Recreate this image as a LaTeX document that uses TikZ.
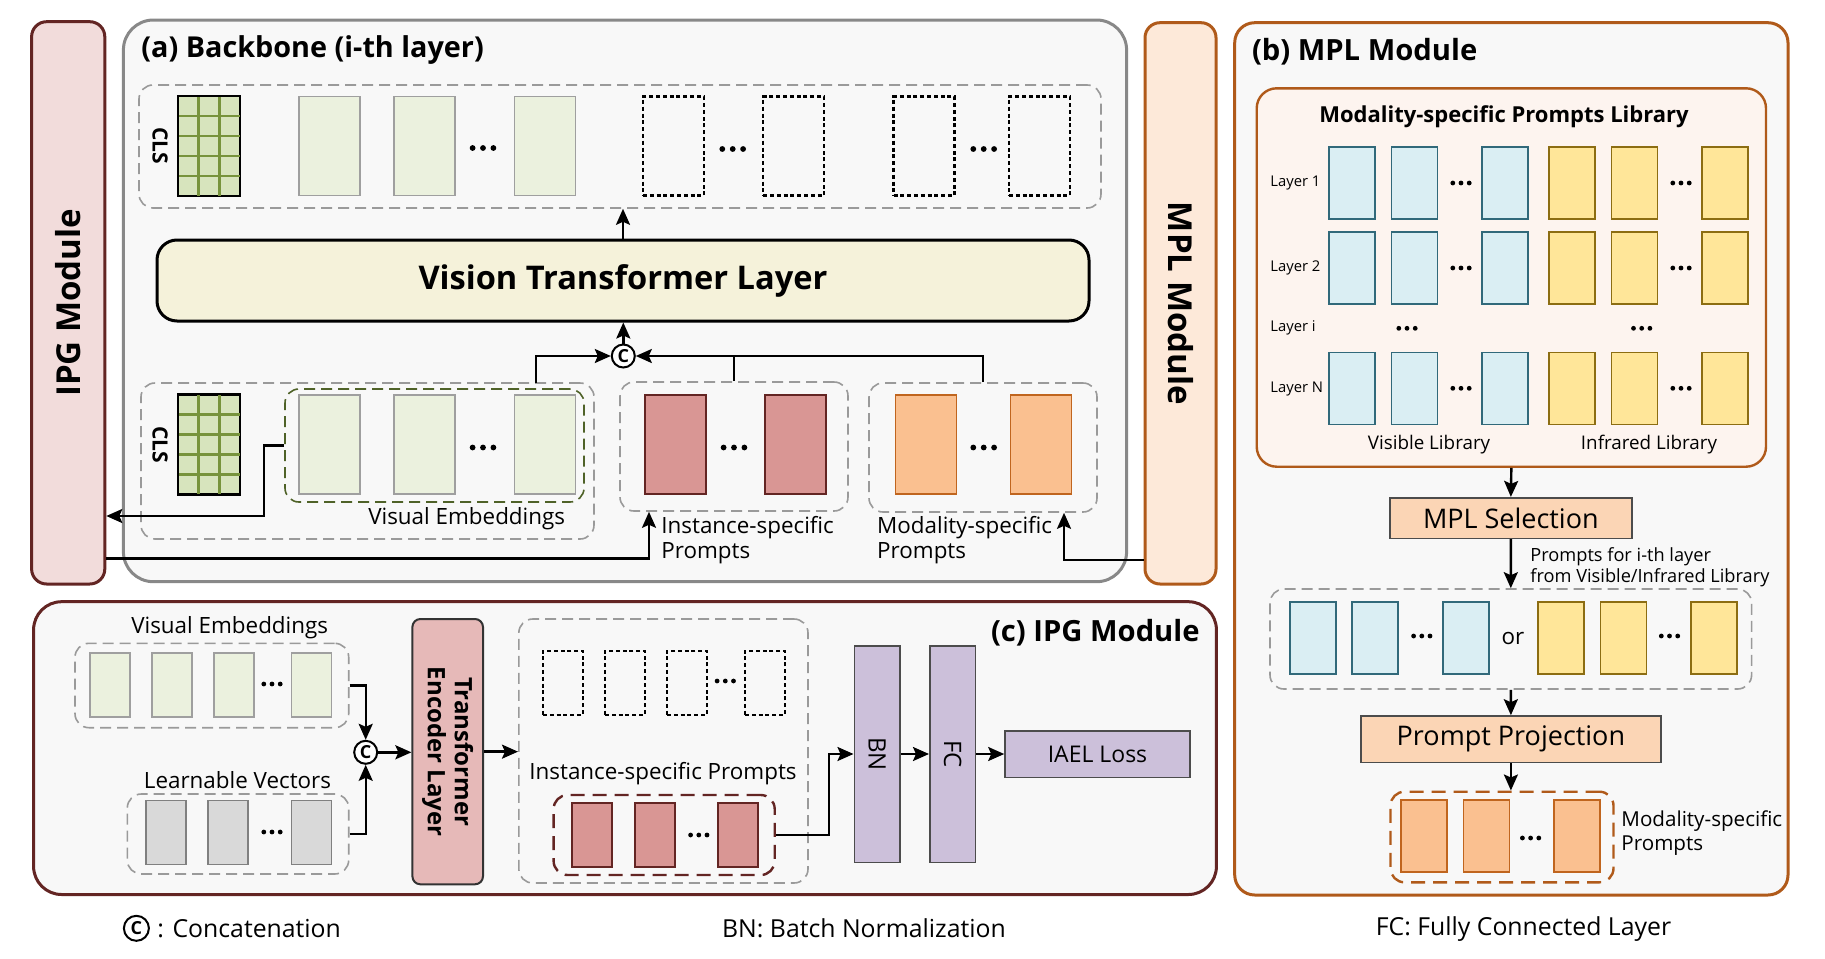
\documentclass[tikz,border=0pt]{standalone}
\usepackage{fontspec}
\setmainfont{Open Sans}
\usetikzlibrary{arrows.meta,calc,fit}

\definecolor{bbfill}{HTML}{F8F8F8}
\definecolor{bbframe}{HTML}{888888}
\definecolor{ipgfill}{HTML}{F2DCDB}
\definecolor{ipgframe}{HTML}{632523}
\definecolor{mplfill}{HTML}{FDE9D9}
\definecolor{mplframe}{HTML}{B05A1A}
\definecolor{vtlfill}{HTML}{F5F2DA}
\definecolor{visfill}{HTML}{EBF1DE}
\definecolor{clsfill}{HTML}{D7E4BD}
\definecolor{clsline}{HTML}{77933C}
\definecolor{insfill}{HTML}{D99694}
\definecolor{modfill}{HTML}{FAC090}
\definecolor{moddraw}{HTML}{C0651E}
\definecolor{blufill}{HTML}{DAEEF3}
\definecolor{bludraw}{HTML}{31697A}
\definecolor{yelfill}{HTML}{FFE699}
\definecolor{yeldraw}{HTML}{8C6D12}
\definecolor{libfill}{HTML}{FDF4EF}
\definecolor{selfill}{HTML}{FBD5B5}
\definecolor{grayfill}{HTML}{D9D9D9}
\definecolor{tefill}{HTML}{E6B9B8}
\definecolor{bnfill}{HTML}{CCC0DA}
\definecolor{dashgray}{HTML}{9A9A9A}
\definecolor{olive}{HTML}{4F6228}

\tikzset{
  arr/.style={-{Stealth[length=8pt,width=7pt,inset=1.5pt]}, line width=1.2pt},
  wire/.style={line width=1.2pt},
  txt/.style={inner sep=0pt, font=\fontsize{11.2}{12.5}\selectfont},
  panel/.style={inner sep=0pt, line width=1.5pt, fill=bbfill},
  group/.style={inner sep=0pt, draw=dashgray, line width=.8pt, dash pattern=on 5.5pt off 3pt, rounded corners=7pt},
  blk/.style={inner sep=0pt, line width=.8pt, draw=black!70},
  cat/.style={circle, draw, line width=1pt, fill=white, inner sep=0pt, minimum size=11.5pt, font=\fontsize{9}{9}\selectfont\bfseries},
  tile/.style={inner sep=0pt, line width=.8pt, minimum width=30.5pt, minimum height=49.5pt},
  ltile/.style={inner sep=0pt, line width=.8pt, minimum width=23pt, minimum height=36pt},
  stile/.style={inner sep=0pt, line width=.8pt, minimum width=20pt, minimum height=32pt},
  vis/.style={fill=visfill, draw=gray!75},
  cls/.style={fill=clsfill, draw=black},
  ins/.style={fill=insfill, draw=ipgframe},
  mod/.style={fill=modfill, draw=moddraw},
  blu/.style={fill=blufill, draw=bludraw},
  yel/.style={fill=yelfill, draw=yeldraw},
  gry/.style={fill=grayfill, draw=gray},
  hole/.style={draw=black, line width=1.1pt, dash pattern=on 2pt off 1.4pt},
  bigdots/.pic={\foreach \k in {-1,0,1} \fill (\k*5.2pt,0) circle (1.45pt);},
  smalldots/.pic={\foreach \k in {-1,0,1} \fill (\k*4.1pt,0) circle (1.2pt);}
}

\begin{document}
\begin{tikzpicture}[x=0.5pt, y=-0.5pt]
\useasboundingbox (0,0) rectangle (1825,958);
% Panels
\node[panel, draw=bbframe, rounded corners=15pt, fit={(123.4,20) (1126.6,581.7)}] (backbone) {};
\node[panel, draw=ipgframe, fill=ipgfill, rounded corners=7.5pt, fit={(31.6,21.7) (104.8,584)}] (ipgbar) {};
\node[panel, draw=mplframe, fill=mplfill, rounded corners=7.5pt, fit={(1145,22.7) (1216,584)}] (mplbar) {};
\node[panel, draw=mplframe, rounded corners=10pt, fit={(1234.7,22.7) (1788,895)}] (mplpanel) {};
\node[panel, draw=ipgframe, rounded corners=14pt, fit={(33.6,601.7) (1216.4,894.5)}] (ipgpanel) {};
\node[txt, rotate=90, font=\fontsize{16.5}{18}\selectfont\bfseries] (ipgname) at (ipgbar.center) {IPG Module};
\node[txt, rotate=-90, font=\fontsize{16.5}{18}\selectfont\bfseries] (mplname) at (mplbar.center) {MPL Module};

%% (a) Backbone
\node[txt, anchor=west, font=\fontsize{14.4}{16}\selectfont\bfseries] (bbtitle) at (141,50) {(a) Backbone (i-th layer)};
% Output tokens
\node[group, fit={(139,85) (1101,208)}] (outrow) {};
\node[tile, cls] (cls1) at (209,146) {};
\node[txt, rotate=-90, font=\fontsize{10.5}{11}\selectfont\bfseries] (clsa) at (160,146) {CLS};
\foreach \x [count=\i] in {329.5,424.5,545} \node[tile, vis] (ov\i) at (\x,146) {};
\foreach \x [count=\i] in {673.5,793.7,924,1039.5} \node[tile, hole] (oh\i) at (\x,146) {};
\path (483,148) pic {bigdots} (732.7,149) pic {bigdots} (983.7,149) pic {bigdots};
% Vision Transformer Layer
\node[inner sep=0pt, draw, line width=1.5pt, fill=vtlfill, rounded corners=10pt, fit={(157,240) (1089,321)}] (vtl) {};
\node[txt, font=\fontsize{16.3}{18}\selectfont\bfseries] (vtltext) at (vtl.center) {Vision Transformer Layer};
\node[cat] (cat1) at (623.3,356) {C};
% Input tokens
\node[group, fit={(141,383) (594,539)}] (inrow) {};
\node[group, draw=olive, fit={(285,389) (584,502)}] (visin) {};
\node[tile, cls] (cls2) at (209,444.5) {};
\node[txt, rotate=-90, font=\fontsize{10.5}{11}\selectfont\bfseries] (clsb) at (160,445) {CLS};
\foreach \x [count=\i] in {329.5,424.5,545} \node[tile, vis] (iv\i) at (\x,444.5) {};
\path (483,447.5) pic {bigdots};
\node[txt] (vislbl) at (466.7,519) {Visual Embeddings};
% Instance-specific prompts
\node[group, fit={(620,382) (848,511)}] (insbox) {};
\foreach \x [count=\i] in {675.5,795.3} \node[tile, ins] (ip\i) at (\x,444.5) {};
\path (734,447.5) pic {bigdots};
\node[txt, anchor=west, align=left] (inslbl) at (661,540.5) {Instance-specific\\Prompts};
% Modality-specific prompts
\node[group, fit={(869,383) (1097,512)}] (modbox) {};
\foreach \x [count=\i] in {926,1041} \node[tile, mod] (mp\i) at (\x,444.5) {};
\path (983.7,447.5) pic {bigdots};
\node[txt, anchor=west, align=left] (modlbl) at (876.8,540.5) {Modality-specific\\Prompts};
% CLS grids
\foreach \n in {cls1,cls2} {
  \foreach \k in {1,2} \draw[clsline, line width=1.2pt] ($(\n.north west)!\k/3!(\n.north east)$) -- ($(\n.south west)!\k/3!(\n.south east)$);
  \foreach \k in {1,...,4} \draw[clsline, line width=1.2pt] ($(\n.north west)!\k/5!(\n.south west)$) -- ($(\n.north east)!\k/5!(\n.south east)$);
  \draw[line width=.8pt] (\n.north west) rectangle (\n.south east);
}
% Connections
\coordinate (vj) at (535.8,383);
\coordinate (vk) at (263.7,516);
\coordinate (ik) at (649,558.3);
\coordinate (mk) at (1064,560);
\draw[arr] (vtl.north) -- (vtl.north |- outrow.south);
\draw[arr] (cat1.north) -- (cat1.north |- vtl.south);
\draw[arr] (vj) |- (cat1.west);
\draw[wire] (insbox.north) -- (insbox.north |- cat1.east);
\draw[arr] (modbox.north) |- (cat1.east);
\draw[arr] (visin.west) -| (vk) -- (vk -| ipgbar.east);
\draw[arr] (ik -| ipgbar.east) -| (ik |- insbox.south);
\draw[arr] (mk -| mplbar.west) -| (mk |- modbox.south);

%% (b) MPL Module
\node[txt, anchor=west, font=\fontsize{14.6}{16}\selectfont\bfseries] (mpltitle) at (1251.6,51.7) {(b) MPL Module};
\node[inner sep=0pt, draw=mplframe, line width=1.2pt, fill=libfill, rounded corners=10pt, fit={(1256.7,88.3) (1766,466.7)}] (lib) {};
\node[txt, font=\fontsize{11}{12}\selectfont\bfseries] (libtitle) at (1504,116.7) {Modality-specific Prompts Library};
\foreach \y/\t in {183/Layer 1, 268/Layer 2, 328.3/Layer i, 389/Layer N}
  \node[txt, anchor=west, font=\fontsize{7.4}{8}\selectfont] (lay-\y) at (1270,\y) {\t};
\foreach \y [count=\r] in {183,268,388.3} {
  \foreach \x [count=\i] in {1352,1414.3,1505} \node[ltile, blu] (lb\r\i) at (\x,\y) {};
  \foreach \x [count=\i] in {1572,1634.3,1725} \node[ltile, yel] (ly\r\i) at (\x,\y) {};
  \path (1461,\y) pic {smalldots} (1681,\y) pic {smalldots};
}
\path (1407,328.3) pic {smalldots} (1641.7,328.3) pic {smalldots};
\node[txt, font=\fontsize{9.4}{10}\selectfont] (vislib) at (1429,445) {Visible Library};
\node[txt, font=\fontsize{9.4}{10}\selectfont] (irlib) at (1649,445) {Infrared Library};
% Selection
\node[blk, fill=selfill, fit={(1389.7,497.7) (1632,538.3)}] (sel) {};
\node[txt, font=\fontsize{13.5}{15}\selectfont] (seltext) at (sel.center) {MPL Selection};
\node[txt, anchor=west, align=left, font=\fontsize{9.1}{10.5}\selectfont] (sellbl) at (1530,567) {Prompts for i-th layer\\from Visible/Infrared Library};
\node[group, fit={(1270,589) (1751.6,689)}] (selrow) {};
\foreach \x [count=\i] in {1313,1375,1466} \node[ltile, blu] (sb\i) at (\x,638) {};
\foreach \x [count=\i] in {1561,1623.4,1714} \node[ltile, yel] (sy\i) at (\x,638) {};
\path (1421.8,636) pic {smalldots} (1669.5,636) pic {smalldots};
\node[txt] (ortext) at (1513,638) {or};
% Projection
\node[blk, fill=selfill, fit={(1360.8,716) (1661,762.3)}] (proj) {};
\node[txt, font=\fontsize{13.5}{15}\selectfont] (projtext) at (proj.center) {Prompt Projection};
\node[group, draw=mplframe, line width=1.2pt, dash pattern=on 7pt off 4pt, fit={(1390.5,791.7) (1613.5,882.3)}] (outmod) {};
\foreach \x [count=\i] in {1424,1486.6,1577} \node[ltile, mod] (om\i) at (\x,836) {};
\path (1530.6,838) pic {smalldots};
\node[txt, anchor=west, align=left, font=\fontsize{10.3}{11.7}\selectfont] (outmodlbl) at (1621,833) {Modality-specific\\Prompts};
\draw[arr] (lib.south) -- (sel.north);
\draw[arr] (sel.south) -- (selrow.north);
\draw[arr] (selrow.south) -- (proj.north);
\draw[arr] (proj.south) -- (proj.south |- outmod.north);

%% (c) IPG Module
\node[txt, anchor=east, font=\fontsize{14.6}{16}\selectfont\bfseries] (ipgtitle) at (1200,632.3) {(c) IPG Module};
\node[txt] (visemb) at (229.7,627.3) {Visual Embeddings};
\node[group, fit={(75,643.3) (348.7,727.7)}] (ivis) {};
\foreach \x [count=\i] in {110,172,234,311.3} \node[stile, vis] (sv\i) at (\x,685) {};
\path (272,684) pic {smalldots};
\node[txt] (lrnlbl) at (237.5,780) {Learnable Vectors};
\node[group, fit={(127.3,794) (348.7,874)}] (ilv) {};
\foreach \x [count=\i] in {166,228,311.3} \node[stile, gry] (sg\i) at (\x,832.5) {};
\path (272,832) pic {smalldots};
\node[cat] (cat2) at (365.7,752.3) {C};
\node[inner sep=0pt, draw=black!80, line width=1pt, fill=tefill, rounded corners=4pt, fit={(412.4,619) (483,884.3)}] (te) {};
\node[txt, rotate=-90, align=center, font=\fontsize{12}{13.5}\selectfont\bfseries] (tetext) at (te.center) {Transformer\\Encoder Layer};
\node[group, fit={(518.8,619) (808,883)}] (insp) {};
\foreach \x [count=\i] in {563,625,687,765} \node[stile, hole] (sh\i) at (\x,682.7) {};
\path (725.3,681) pic {smalldots};
\node[txt] (insplbl) at (663,773.3) {Instance-specific Prompts};
\node[group, draw=ipgframe, line width=1.2pt, dash pattern=on 7pt off 4pt, fit={(553.6,795) (774.7,875)}] (redc) {};
\foreach \x [count=\i] in {592,654.7,737.7} \node[stile, ins] (si\i) at (\x,834.7) {};
\path (698.8,835) pic {smalldots};
\node[blk, fill=bnfill, fit={(854.3,645.7) (900,862.3)}] (bn) {};
\node[txt, rotate=-90, font=\fontsize{12}{13}\selectfont] (bntext) at (bn.center) {BN};
\node[blk, fill=bnfill, fit={(929.8,645.7) (975.5,862.3)}] (fc) {};
\node[txt, rotate=-90, font=\fontsize{12}{13}\selectfont] (fctext) at (fc.center) {FC};
\node[blk, fill=bnfill, fit={(1005,731) (1190,777.3)}] (iael) {};
\node[txt, font=\fontsize{11.5}{13}\selectfont] (iaeltext) at (iael.center) {IAEL Loss};
\draw[arr] (ivis.east) -| (cat2.north);
\draw[arr] (ilv.east) -| (cat2.south);
\draw[arr] (cat2.east) -- (cat2.east -| te.west);
\draw[arr] (te.east) -- (te.east -| insp.west);
\draw[arr] (redc.east) -- ++(53,0) |- (bn.west);
\draw[arr] (bn.east) -- (bn.east -| fc.west);
\draw[arr] (fc.east) -- (fc.east -| iael.west);

%% Legend
\node[cat, minimum size=12.5pt] (cat3) at (136.4,928.3) {C};
\node[txt, anchor=west, font=\fontsize{12.4}{13}\selectfont] (catlbl) at (157,928.3) {: Concatenation};
\node[txt, font=\fontsize{12.4}{13}\selectfont] (bnlbl) at (864,928.3) {BN: Batch Normalization};
\node[txt, font=\fontsize{12.4}{13}\selectfont] (fclbl) at (1523.5,929.3) {FC: Fully Connected Layer};
\end{tikzpicture}
\end{document}
